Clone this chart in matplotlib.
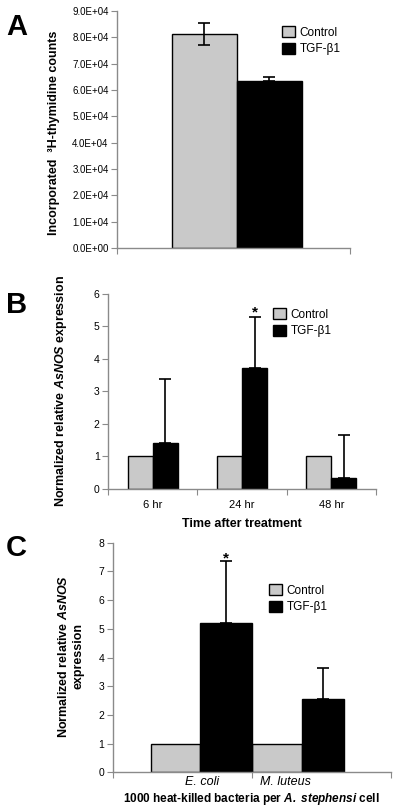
import matplotlib
matplotlib.use("Agg")
from matplotlib import pyplot as plt
from matplotlib.patches import Patch
from matplotlib.ticker import FuncFormatter

plt.rcParams["font.family"] = ["Liberation Sans", "DejaVu Sans"]
plt.rcParams["mathtext.fontset"] = "custom"
plt.rcParams["mathtext.rm"] = "Liberation Sans:bold"
plt.rcParams["mathtext.bfit"] = "Liberation Sans:italic:bold"
plt.rcParams["mathtext.it"] = "Liberation Sans:italic"

# ---- data ----
series = ["Control", "TGF-β1"]

# A: proliferation
a_control, a_control_err = 8.13e4, 0.42e4
a_tgf, a_tgf_err = 6.33e4, 0.15e4

# B: time course
b_times = ["6 hr", "24 hr", "48 hr"]
b_control = [1.0, 1.0, 1.0]
b_tgf = [1.40, 3.73, 0.34]
b_tgf_err = [1.97, 1.55, 1.33]

# C: bacteria
c_bacteria = ["E. coli", "M. luteus"]
c_control = [1.0, 1.0]
c_tgf = [5.19, 2.54]
c_tgf_err = [2.16, 1.08]

GREY = "#c9c9c9"
SPINE = "#8a8a8a"

fig = plt.figure(figsize=(4.0, 8.08), dpi=100)


def style(ax):
    for s in ["top", "right"]:
        ax.spines[s].set_visible(False)
    for s in ["left", "bottom"]:
        ax.spines[s].set_color(SPINE)
        ax.spines[s].set_linewidth(1.0)
    ax.tick_params(axis="both", direction="out", length=4, width=0.8, color=SPINE,
                   labelsize=7.5, pad=2)


def legend(ax, x, y):
    handles = [Patch(facecolor=GREY, edgecolor="black", linewidth=1, label=series[0]),
               Patch(facecolor="black", edgecolor="black", linewidth=1, label=series[1])]
    ax.legend(handles=handles, loc="upper left", bbox_to_anchor=(x, y),
              bbox_transform=fig.transFigure, frameon=False, fontsize=8.5,
              handlelength=1.1, handleheight=1.1, handletextpad=0.4,
              labelspacing=0.35, borderpad=0, borderaxespad=0)


bar_kw = dict(edgecolor="black", linewidth=1.0, zorder=2)
err_kw = dict(ecolor="black", elinewidth=1.2, capthick=1.2, zorder=3)

# ---- panel A ----
axA = fig.add_axes([0.2925, 0.6931, 0.5825, 0.2933])
w = 0.279
axA.bar([-w / 2], [a_control], w, color=GREY, yerr=[[a_control_err], [a_control_err]],
        capsize=4, error_kw=err_kw, **bar_kw)
axA.bar([w / 2], [a_tgf], w, color="black", yerr=[[0], [a_tgf_err]],
        capsize=4, error_kw=err_kw, **bar_kw)
axA.set_xlim(-0.515, 0.485)
axA.set_ylim(0, 9e4)
axA.set_yticks([i * 1e4 for i in range(10)])
axA.yaxis.set_major_formatter(FuncFormatter(lambda v, p: "%.1E" % v))
axA.set_xticks([-0.515, 0.485])
axA.set_xticklabels([])
style(axA)
axA.tick_params(axis="y", labelsize=7)
fig.text(54 / 400, 1 - 133 / 808, "Incorporated  ³H-thymidine counts", rotation=90,
         ha="center", va="center", fontsize=9, fontweight="bold")
legend(axA, 282 / 400, 1 - 26 / 808)

# ---- panel B ----
axB = fig.add_axes([0.27, 0.3952, 0.67, 0.2409])
xb = list(range(len(b_times)))
wb = 0.28
axB.bar([x - wb / 2 for x in xb], b_control, wb, color=GREY, **bar_kw)
axB.bar([x + wb / 2 for x in xb], b_tgf, wb, color="black",
        yerr=[[0] * len(b_tgf), b_tgf_err], capsize=4, error_kw=err_kw, **bar_kw)
axB.set_xlim(-0.5, 2.5)
axB.set_ylim(0, 6)
axB.set_yticks(range(7))
axB.set_xticks([-0.5, 0.5, 1.5, 2.5])
axB.set_xticklabels([])
axB.set_xticks(xb, minor=True)
axB.set_xticklabels(b_times, minor=True)
axB.tick_params(axis="x", which="minor", length=0, labelsize=8, pad=8)
style(axB)
axB.text(1 + wb / 2, b_tgf[1] + b_tgf_err[1] + 0.04, "*", ha="center", va="baseline",
         fontsize=11, fontweight="bold")
axB.set_xlabel("Time after treatment", fontsize=9, fontweight="bold", labelpad=6)
fig.text(61 / 400, 1 - 391 / 808, r"Normalized relative $\mathbfit{AsNOS}$ expression",
         rotation=90, ha="center", va="center", fontsize=9, fontweight="bold")
legend(axB, 273 / 400, 1 - 308 / 808)

# ---- panel C ----
axC = fig.add_axes([0.2818, 0.0442, 0.695, 0.2841])
c_ctrl_pos = [0.452, 1.18]
c_tgf_pos = [0.815, 1.512]
c_ctrl_w = [0.357, 0.36]
c_tgf_w = [0.37, 0.304]
axC.bar(c_ctrl_pos, c_control, c_ctrl_w, color=GREY, **bar_kw)
axC.bar(c_tgf_pos, c_tgf, c_tgf_w, color="black",
        yerr=[[0] * len(c_tgf), c_tgf_err], capsize=4, error_kw=err_kw, **bar_kw)
axC.set_xlim(0, 2)
axC.set_ylim(0, 8)
axC.set_yticks(range(9))
axC.set_xticks([0, 1, 2])
axC.set_xticklabels([])
axC.set_xticks([0.64, 1.24], minor=True)
axC.set_xticklabels(c_bacteria, minor=True, fontstyle="italic")
axC.tick_params(axis="x", which="minor", length=0, labelsize=9, pad=3)
style(axC)
axC.text(c_tgf_pos[0], c_tgf[0] + c_tgf_err[0] - 0.05, "*", ha="center", va="baseline",
         fontsize=11, fontweight="bold")
axC.set_xlabel(r"1000 heat-killed bacteria per $\mathbfit{A.\ stephensi}$ cell",
               fontsize=8.5, fontweight="bold", labelpad=2)
fig.text(71 / 400, 1 - 656 / 808, "Normalized relative $\\mathbfit{AsNOS}$\nexpression",
         rotation=90, ha="center", va="center", multialignment="center",
         fontsize=9, fontweight="bold", linespacing=1.3)
legend(axC, 269 / 400, 1 - 584 / 808)

# panel letters
for lab, yy in [("A", 27), ("B", 305), ("C", 548)]:
    fig.text(6 / 400, 1 - yy / 808, lab, fontsize=21, fontweight="bold", va="center")

fig.savefig("out.png", dpi=100)
